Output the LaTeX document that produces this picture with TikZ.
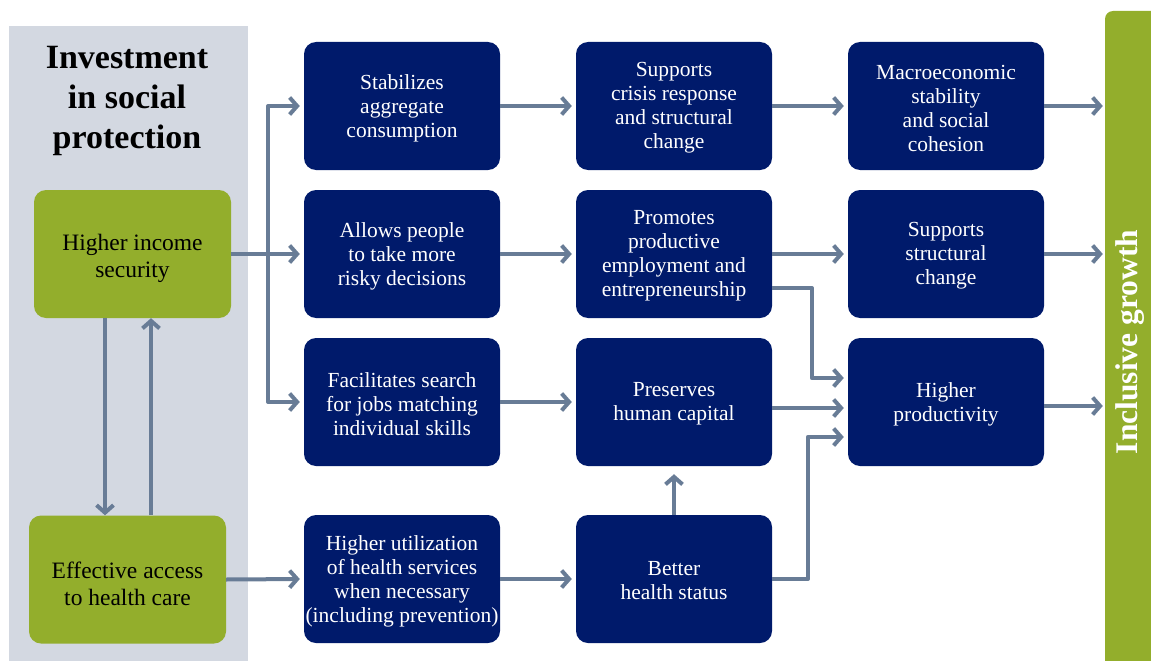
\documentclass[tikz,border=0pt]{standalone}
\usepackage{fontspec}
\setmainfont{Liberation Serif}
\usetikzlibrary{arrows.meta,calc}
\definecolor{navy}{RGB}{0,26,107}
\definecolor{olive}{RGB}{147,174,44}
\definecolor{panel}{RGB}{211,216,225}
\definecolor{arrowc}{RGB}{104,124,150}
\tikzset{
  bluebox/.style={fill=navy, rounded corners=12pt, minimum width=196pt, minimum height=128pt, inner sep=0pt},
  bluetext/.style={text=white, inner sep=0pt, align=center, yshift=-2pt, font=\fontsize{21.5}{24}\selectfont},
  greenbox/.style={fill=olive, rounded corners=12pt, minimum width=197pt, minimum height=128pt, inner sep=0pt},
  greentext/.style={text=black, inner sep=0pt, align=center, yshift=-4pt, font=\fontsize{23.5}{27}\selectfont},
  arr/.style={draw=arrowc, line width=4pt, line join=round, -{Straight Barb[length=7.5pt,width=17pt]}},
}
\begin{document}
\begin{tikzpicture}[x=1pt,y=-1pt]
\clip (0,0) rectangle (1151,661);
\useasboundingbox (0,0) rectangle (1151,661);
% gray panel
\fill[panel] (9,26) rectangle (248,670);
\node[align=center, font=\bfseries\fontsize{34}{40}\selectfont] (title) at (127,101) {Investment\\in social\\protection};
% right bar
\node[fill=olive, rounded corners=8pt, minimum width=56pt, minimum height=669pt, inner sep=0pt] (bar) at (1133,345.5) {};
\node[rotate=90, text=white, font=\bfseries\fontsize{31.5}{34}\selectfont] (bartext) at (1130,342) {Inclusive growth};
% green boxes
\node[greenbox, label={[greentext]center:{Higher income\\security}}] (g1) at (132.5,254) {};
\node[greenbox, label={[greentext]center:{Effective access\\to health care}}] (g2) at (127.5,579.5) {};
% blue boxes
\node[bluebox, label={[bluetext]center:{Stabilizes\\aggregate\\consumption}}] (b11) at (402,106) {};
\node[bluebox, label={[bluetext]center:{Supports\\crisis response\\and structural\\change}}] (b12) at (674,106) {};
\node[bluebox, label={[bluetext]center:{Macroeconomic\\stability\\and social\\cohesion}}] (b13) at (946,106) {};
\node[bluebox, label={[bluetext]center:{Allows people\\to take more\\risky decisions}}] (b21) at (402,254) {};
\node[bluebox, label={[bluetext]center:{Promotes\\productive\\employment and\\entrepreneurship}}] (b22) at (674,254) {};
\node[bluebox, label={[bluetext]center:{Supports\\structural\\change}}] (b23) at (946,254) {};
\node[bluebox, label={[bluetext]center:{Facilitates search\\for jobs matching\\individual skills}}] (b31) at (402,402) {};
\node[bluebox, label={[bluetext]center:{Preserves\\human capital}}] (b32) at (674,402) {};
\node[bluebox, label={[bluetext]center:{Higher\\productivity}}] (b33) at (946,402) {};
\node[bluebox, label={[bluetext]center:{Higher utilization\\of health services\\when necessary\\(including prevention)}}] (b41) at (402,579) {};
\node[bluebox, label={[bluetext]center:{Better\\health status}}] (b42) at (674,579) {};
% connectors
\coordinate (sp) at (268,254);
\draw[arr, shorten >=4pt] (g1.east) -- (b21.west);
\draw[arr, shorten >=4pt] (sp) |- (b11.west);
\draw[arr, shorten >=4pt] (sp) |- (b31.west);
\draw[arr] ([xshift=-27.5pt]g1.south) -- ([xshift=-27.5pt]g1.south |- g2.north);
\draw[arr] ([xshift=23.5pt]g2.north) -- ([xshift=23.5pt]g2.north |- g1.south);
\draw[arr, shorten >=4pt] (g2.east) -- (b41.west);
\draw[arr, shorten >=4pt] (b11.east) -- (b12.west);
\draw[arr, shorten >=4pt] (b12.east) -- (b13.west);
\draw[arr, shorten >=2pt] (b13.east) -- (b13.east -| bar.west);
\draw[arr, shorten >=4pt] (b21.east) -- (b22.west);
\draw[arr, shorten >=4pt] (b22.east) -- (b23.west);
\draw[arr, shorten >=2pt] (b23.east) -- (b23.east -| bar.west);
\draw[arr, shorten >=4pt] ([yshift=-34pt]b22.east) -| ([xshift=-36pt,yshift=24pt]b33.west) -- ([yshift=24pt]b33.west);
\draw[arr, shorten >=4pt] (b31.east) -- (b32.west);
\draw[arr, shorten >=4pt] ([yshift=-6pt]b32.east) -- ([yshift=-6pt]b33.west);
\draw[arr, shorten >=2pt] ([yshift=-4pt]b33.east) -- ([yshift=-4pt]b33.east -| bar.west);
\draw[arr, shorten >=4pt] (b41.east) -- (b42.west);
\draw[arr, shorten >=8pt] (b42.north) -- (b32.south);
\draw[arr, shorten >=4pt] (b42.east) -| ([xshift=-40pt,yshift=-35pt]b33.west) -- ([yshift=-35pt]b33.west);
\end{tikzpicture}
\end{document}
